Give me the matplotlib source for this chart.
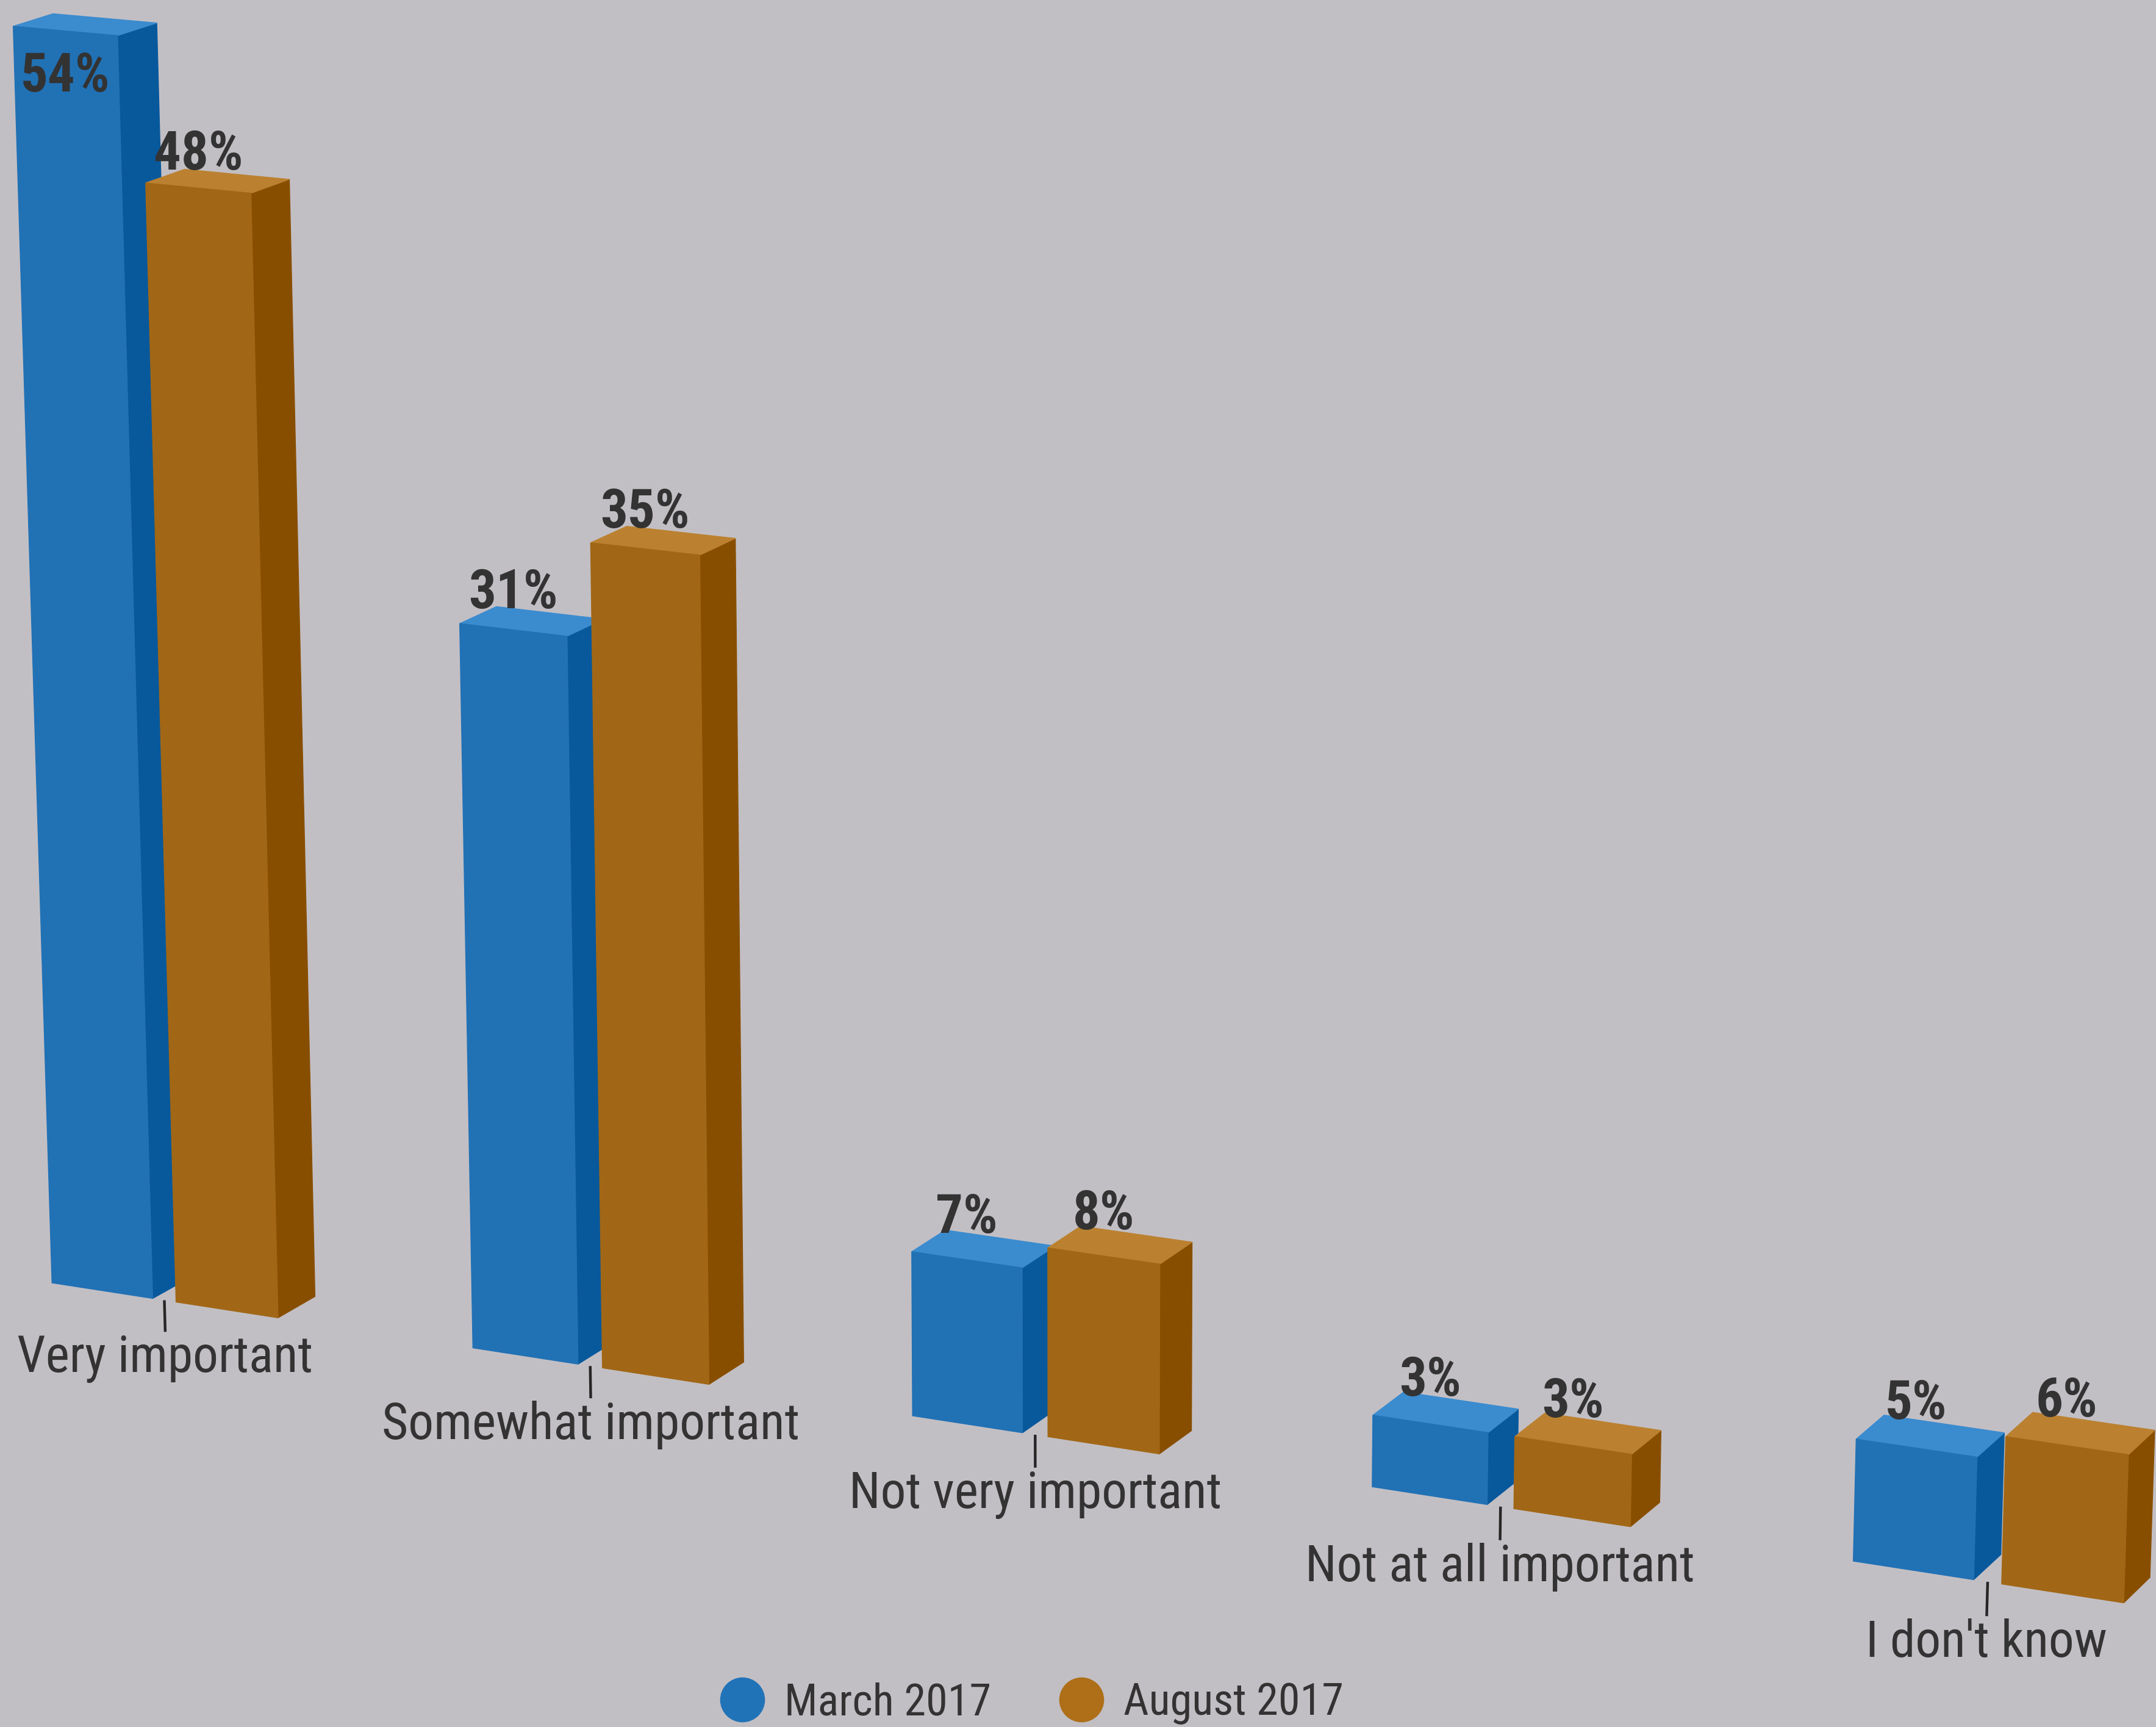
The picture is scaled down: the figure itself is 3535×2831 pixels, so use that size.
import numpy as np
import matplotlib.pyplot as plt
from matplotlib import font_manager
from matplotlib.lines import Line2D

categories = ['Very important', 'Somewhat important', 'Not very important',
              'Not at all important', "I don't know"]
march_2017 = [54, 31, 7, 3, 5]
august_2017 = [48, 35, 8, 3, 6]
series_names = ['March 2017', 'August 2017']

W, H = 3535, 2831
BG = '#c2bfc4'
TEXT = '#333333'
TICK_COLOR = '#262626'
SERIES_RGB = [(33, 113, 181), (161, 103, 22)]
LEGEND_COLORS = ['#2173b8', '#ae6f18']

# condensed sans, first one that is installed
installed = {f.name for f in font_manager.fontManager.ttflist}
FONT = next((name for name in ('Roboto Condensed', 'Archivo Narrow',
                               'Liberation Sans Narrow', 'Roboto')
             if name in installed), 'DejaVu Sans')

# 3D view: tilt, rotation and viewing distance around the plot centre
ALPHA = np.radians(15.22)
BETA = np.radians(25.03)
VIEW = 15042
CX, CY = 1767, 1300

# column layout in unrotated plot space, relative to the centre
X0 = -1953      # left edge of the first column
SLOT = 838.7    # width of one category
BAR_W = 204
BAR_GAP = 47
BASE = 1098     # zero line
UNIT = 41.3     # one percentage point
DEPTH = 129
TICK = 58


def project(x, y, z):
    """Rotate around the plot centre and apply perspective."""
    ca, sa = np.cos(ALPHA), np.sin(ALPHA)
    cb, sb = np.cos(BETA), np.sin(BETA)
    x = np.asarray(x, float)
    y = np.asarray(y, float)
    z = np.asarray(z, float)
    rx = cb * x + sb * z
    ry = sa * sb * x + ca * y - cb * sa * z
    rz = -ca * sb * x + sa * y + ca * cb * z
    p = VIEW / (VIEW + rz)
    return CX + rx * p, CY + ry * p


def shade(rgb, amount):
    return tuple(min(255, max(0, c + amount * 255)) / 255 for c in rgb)


def draw_column(ax, x0, value, rgb):
    x1 = x0 + BAR_W
    yt = BASE - value * UNIT
    zf, zb = -DEPTH / 2, DEPTH / 2
    front = [(x0, BASE, zf), (x1, BASE, zf), (x1, yt, zf), (x0, yt, zf)]
    side = [(x1, BASE, zf), (x1, BASE, zb), (x1, yt, zb), (x1, yt, zf)]
    top = [(x0, yt, zf), (x1, yt, zf), (x1, yt, zb), (x0, yt, zb)]
    for face, amount in ((side, -0.1), (top, 0.1), (front, 0.0)):
        px, py = project(*zip(*face))
        c = shade(rgb, amount)
        ax.fill(px, py, color=c, ec=c, lw=1.0, zorder=2)

    # value label centred over the column, inside if it would leave the canvas
    cx = x0 + BAR_W / 2
    lx, front_y = project(cx, yt, zf)
    _, back_y = project(cx, yt, zb)
    if back_y - 80 < 0:
        ax.text(lx, front_y + 32, f'{value}%', ha='center', va='top',
                fontsize=64, fontweight='bold', color=TEXT, family=FONT, zorder=5)
    else:
        ax.text(lx, back_y - 8, f'{value}%', ha='center', va='baseline',
                fontsize=64, fontweight='bold', color=TEXT, family=FONT, zorder=5)


fig = plt.figure(figsize=(W / 100, H / 100), dpi=100)
fig.patch.set_facecolor(BG)
ax = fig.add_axes([0, 0, 1, 1])
ax.set_facecolor(BG)
ax.set_xlim(0, W)
ax.set_ylim(H, 0)
ax.axis('off')

series = [march_2017, august_2017]
for i, name in enumerate(categories):
    left = X0 + i * SLOT
    for j, values in enumerate(series):
        draw_column(ax, left + j * (BAR_W + BAR_GAP), values[i], SERIES_RGB[j])

    # category tick and label on the front plane
    mid = left + BAR_W + BAR_GAP / 2
    tx, ty = project([mid, mid], [BASE, BASE + TICK], [-DEPTH / 2] * 2)
    ax.plot(tx, ty, color=TICK_COLOR, lw=3.2, solid_capstyle='butt', zorder=3)
    ax.text(tx[1], ty[1] + 4, name, ha='center', va='top', fontsize=60,
            color=TEXT, family=FONT, zorder=5)

handles = [Line2D([], [], ls='none', marker='o', ms=52, mfc=c, mec=c)
           for c in LEGEND_COLORS]
ax.legend(handles, series_names, loc='center', ncol=2, frameon=False,
          bbox_to_anchor=(1692 / W, 1 - 2792 / H), bbox_transform=fig.transFigure,
          prop={'family': FONT, 'size': 52}, labelcolor=TEXT,
          handlelength=1.0, handletextpad=0.45, columnspacing=1.55)

fig.savefig('out.png', dpi=100, facecolor=BG)
